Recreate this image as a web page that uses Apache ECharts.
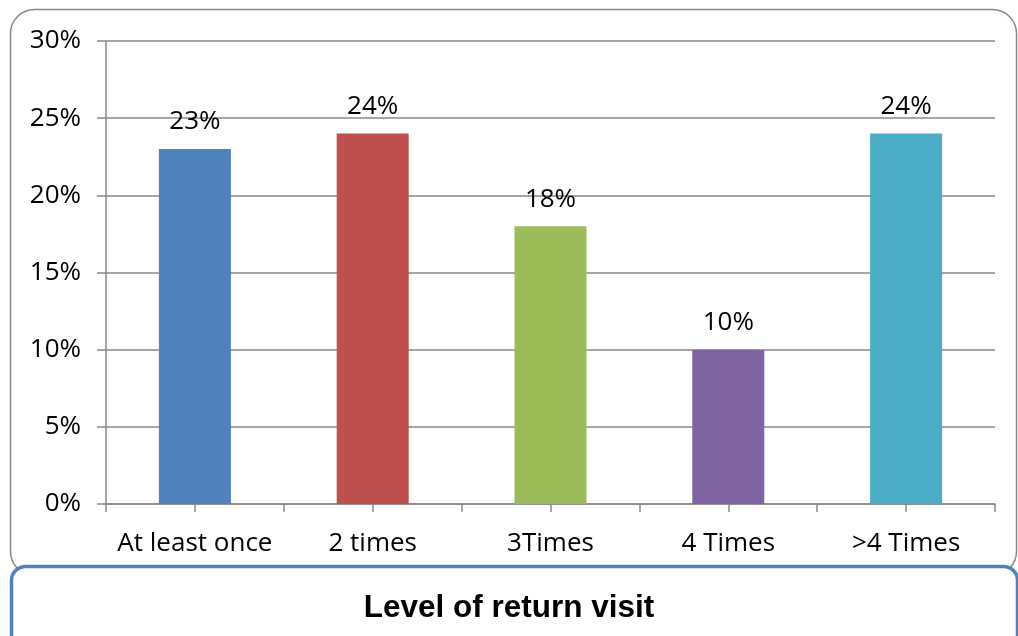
<!DOCTYPE html>
<html>
<head>
<meta charset="utf-8">
<script src="https://cdn.jsdelivr.net/npm/echarts@6/dist/echarts.min.js"></script>
<style>
  html, body { margin: 0; padding: 0; background: #fff; }
  #chart { width: 1018px; height: 636px; }
</style>
</head>
<body>
<div id="chart"></div>
<script>
const categories = ['At least once', '2 times', '3Times', '4 Times', '>4 Times']
const values = [23, 24, 18, 10, 24]
const barColors = ['#4F81BD', '#C0504D', '#9BBB59', '#8064A2', '#4BACC6']
const yTicks = [0, 5, 10, 15, 20, 25, 30]

const chart = echarts.init(document.getElementById('chart'))
const font = '"Open Sans", "Noto Sans", sans-serif'
const axisGray = '#888888'

// half-step ticks: Excel draws a tick at each category edge and centre
const halfSlots = []
for (let i = 0; i < categories.length * 2; i++) halfSlots.push('')

const option = {
  animation: false,
  title: {
    text: 'Level of return visit',
    left: 'center',
    top: 587,
    textStyle: {
      fontFamily: '"Liberation Sans", Arial, sans-serif',
      fontSize: 31.5,
      fontWeight: 'bold',
      color: '#000'
    }
  },
  graphic: [
    {
      type: 'rect',
      z: -10,
      shape: { x: 10.5, y: 9.5, width: 1006, height: 566, r: 24 },
      style: { fill: 'none', stroke: axisGray, lineWidth: 1.5 }
    },
    {
      type: 'rect',
      z: -5,
      shape: { x: 11.5, y: 566.5, width: 1006, height: 90, r: 14 },
      style: { fill: '#fff', stroke: '#4F81BD', lineWidth: 3.5 }
    }
  ],
  grid: { left: 106, right: 23, top: 41, bottom: 132 },
  xAxis: [
    {
      type: 'category',
      data: categories,
      axisLine: { lineStyle: { color: axisGray, width: 1.5 } },
      axisTick: { show: false },
      axisLabel: {
        interval: 0,
        color: '#000',
        fontFamily: font,
        fontSize: 26,
        margin: 27
      }
    },
    {
      type: 'category',
      data: halfSlots,
      position: 'bottom',
      axisLine: { show: false },
      axisTick: { show: true, interval: 0, length: 8, inside: false, lineStyle: { color: axisGray, width: 1.5 } },
      axisLabel: { show: false }
    }
  ],
  yAxis: {
    type: 'value',
    min: yTicks[0],
    max: yTicks[yTicks.length - 1],
    interval: 5,
    axisLine: { show: true, lineStyle: { color: axisGray, width: 1.5 } },
    axisTick: { show: true, length: 9, lineStyle: { color: axisGray, width: 1.5 } },
    splitLine: { lineStyle: { color: axisGray, width: 1.5 } },
    axisLabel: {
      color: '#000',
      fontFamily: font,
      fontSize: 26,
      margin: 25,
      formatter: v => v + '%'
    }
  },
  series: [
    {
      type: 'bar',
      xAxisIndex: 0,
      barWidth: 72,
      data: values.map((v, i) => ({ value: v, itemStyle: { color: barColors[i] } })),
      label: {
        show: true,
        position: 'top',
        distance: 14,
        color: '#000',
        fontFamily: font,
        fontSize: 26,
        formatter: p => p.value + '%'
      }
    }
  ]
}

chart.setOption(option)
</script>
</body>
</html>
